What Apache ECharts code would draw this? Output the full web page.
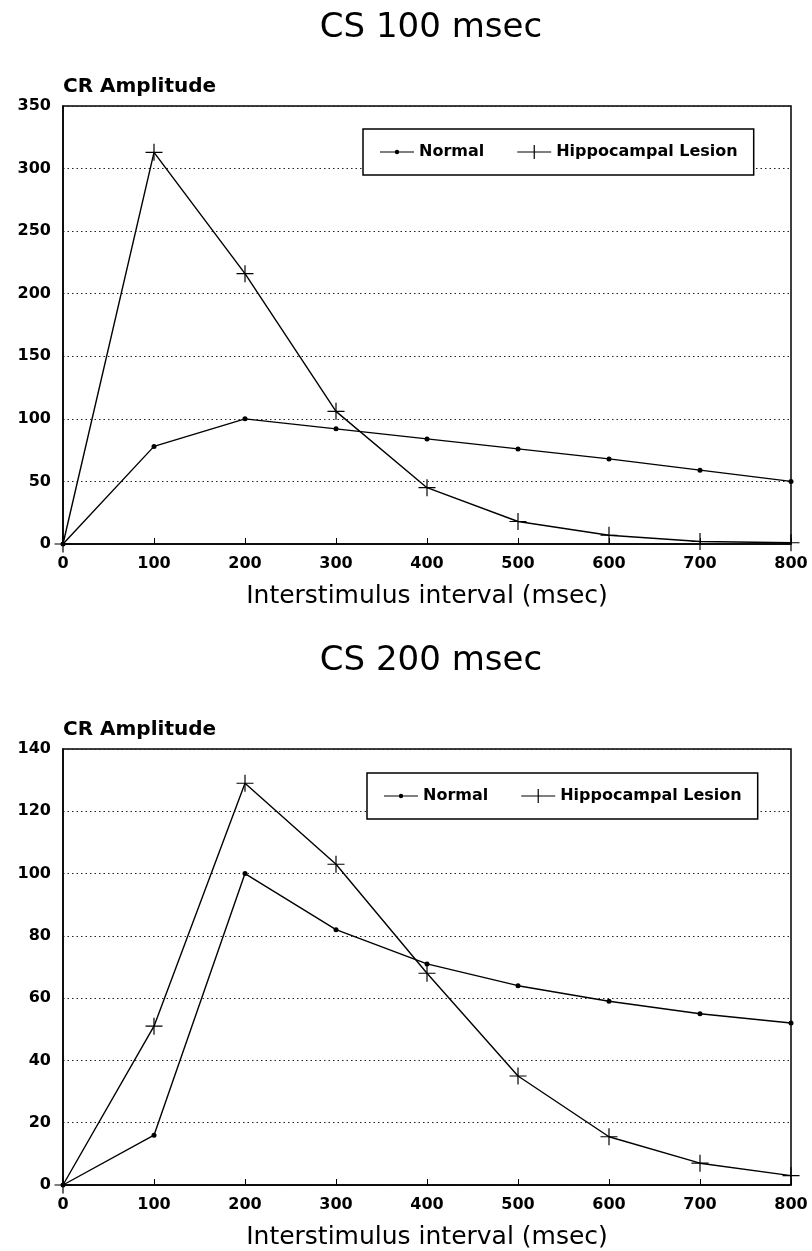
<!DOCTYPE html>
<html>
<head>
<meta charset="utf-8">
<script src="https://cdn.jsdelivr.net/npm/echarts@6/dist/echarts.min.js"></script>
<style>
html,body{margin:0;padding:0;background:#fff;}
#chart{width:812px;height:1251px;}
</style>
</head>
<body>
<div id="chart"></div>
<script>
// ---- data ----
const isi = [0, 100, 200, 300, 400, 500, 600, 700, 800];
const cs100Normal = [0, 78, 100, 92, 84, 76, 68, 59, 50];
const cs100Lesion = [0, 313, 216, 106, 45, 18, 7, 2, 1];
const cs200Normal = [0, 16, 100, 82, 71, 64, 59, 55, 52];
const cs200Lesion = [0, 51, 129, 103, 68, 35, 15.5, 7, 3];
const titles = ['CS 100 msec', 'CS 200 msec'];
const seriesNames = ['Normal', 'Hippocampal Lesion'];
const yAxisName = 'CR Amplitude';
const xAxisName = 'Interstimulus interval (msec)';

const FONT = 'DejaVu Sans';
const CROSS = 'path://M-0.7,-10H0.7V10H-0.7Z M-10,-0.7H10V0.7H-10Z';
// legend icons (line + marker), drawn in a 34x14 box
const ICON_NORMAL = 'path://M0,6.4H34V7.6H0Z M17,4.8A2.2,2.2 0 1,1 16.99,4.8Z M0,0H0.01V0.01H0Z M0,14H0.01V13.99H0Z';
const ICON_LESION = 'path://M0,6.4H34V7.6H0Z M16.4,0H17.6V14H16.4Z';

function pairs(ys) { return isi.map((x, i) => [x, ys[i]]); }

const grids = [
  { left: 63, top: 106, width: 728, height: 438 },
  { left: 63, top: 749, width: 728, height: 437 }
];
const yMax = [350, 140];
const yInt = [50, 20];

function legendFor(left, top) {
  return {
    data: [
      { name: seriesNames[0], icon: ICON_NORMAL },
      { name: seriesNames[1], icon: ICON_LESION }
    ],
    left: left, top: top, orient: 'horizontal',
    itemWidth: 34, itemHeight: 14, itemGap: 33, padding: [15, 16, 15, 17],
    borderColor: '#000', borderWidth: 1.5, backgroundColor: '#fff',
    itemStyle: { color: '#000', borderWidth: 0 },
    lineStyle: { width: 0 },
    textStyle: { fontFamily: FONT, fontSize: 16, fontWeight: 'bold', color: '#000' }
  };
}

const option = {
  backgroundColor: '#fff',
  animation: false,
  title: [
    { text: titles[0], left: 426, top: 6, textAlign: 'center',
      textStyle: { fontFamily: FONT, fontSize: 34, fontWeight: 'normal', color: '#000' } },
    { text: titles[1], left: 426, top: 639, textAlign: 'center',
      textStyle: { fontFamily: FONT, fontSize: 34, fontWeight: 'normal', color: '#000' } }
  ],
  legend: [legendFor(363, 129), legendFor(367, 773)],
  grid: grids.map(g => Object.assign({ show: true, borderColor: '#000', borderWidth: 1.5, backgroundColor: 'transparent' }, g)),
  xAxis: [0, 1].map(i => ({
    type: 'value', gridIndex: i, min: 0, max: 800, interval: 100,
    name: xAxisName, nameLocation: 'middle', nameGap: 40,
    nameTextStyle: { fontFamily: FONT, fontSize: 25, color: '#000' },
    axisLine: { show: true, lineStyle: { color: '#000', width: 1.5 } },
    axisTick: { show: true, inside: true, length: 6, lineStyle: { color: '#000', width: 1 } },
    axisLabel: { margin: 12, fontFamily: FONT, fontSize: 16, fontWeight: 'bold', color: '#000' },
    splitLine: { show: false }
  })),
  yAxis: [0, 1].map(i => ({
    type: 'value', gridIndex: i, min: 0, max: yMax[i], interval: yInt[i],
    name: yAxisName, nameLocation: 'end', nameGap: 19,
    nameTextStyle: { fontFamily: FONT, fontSize: 20, fontWeight: 'bold', color: '#000', align: 'left', verticalAlign: 'middle' },
    axisLine: { show: true, lineStyle: { color: '#000', width: 1.5 } },
    axisTick: { show: false },
    axisLabel: { margin: 12, fontFamily: FONT, fontSize: 16, fontWeight: 'bold', color: '#000' },
    splitLine: { show: true, lineStyle: { color: '#222', width: 1, type: [1.5, 3] } }
  })),
  series: [
    { name: seriesNames[0], type: 'line', xAxisIndex: 0, yAxisIndex: 0, data: pairs(cs100Normal),
      symbol: 'circle', symbolSize: 5, lineStyle: { color: '#000', width: 1.4 }, itemStyle: { color: '#000' } },
    { name: seriesNames[1], type: 'line', xAxisIndex: 0, yAxisIndex: 0, data: pairs(cs100Lesion),
      symbol: CROSS, symbolSize: 17, lineStyle: { color: '#000', width: 1.4 }, itemStyle: { color: '#000' } },
    { name: seriesNames[0], type: 'line', xAxisIndex: 1, yAxisIndex: 1, data: pairs(cs200Normal),
      symbol: 'circle', symbolSize: 5, lineStyle: { color: '#000', width: 1.4 }, itemStyle: { color: '#000' } },
    { name: seriesNames[1], type: 'line', xAxisIndex: 1, yAxisIndex: 1, data: pairs(cs200Lesion),
      symbol: CROSS, symbolSize: 17, lineStyle: { color: '#000', width: 1.4 }, itemStyle: { color: '#000' } }
  ]
};

const chart = echarts.init(document.getElementById('chart'), null, { renderer: 'canvas' });
chart.setOption(option);
</script>
</body>
</html>
